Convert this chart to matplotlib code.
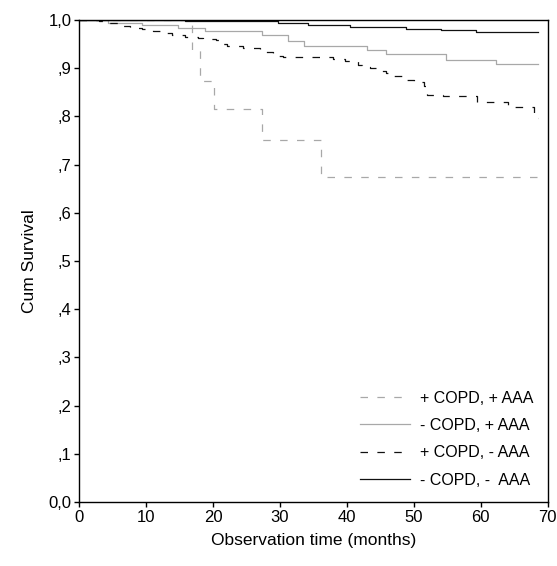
import matplotlib
matplotlib.use("Agg")
import matplotlib.pyplot as plt

plt.rcParams['font.family'] = ['Liberation Sans', 'DejaVu Sans']

# + COPD, + AAA
t_pp = [0, 16.8, 18.1, 20.1, 27.3, 36.1, 68.6]
s_pp = [1.0, 0.938, 0.874, 0.815, 0.752, 0.674, 0.674]

# - COPD, + AAA
t_mp = [0, 4.3, 9.3, 14.8, 18.8, 27.3, 31.2, 33.6, 43.0, 45.9, 54.8, 62.2, 68.6]
s_mp = [1.0, 0.994, 0.990, 0.983, 0.977, 0.969, 0.956, 0.945, 0.938, 0.929, 0.918, 0.908, 0.908]

# + COPD, - AAA
t_pm = [0, 3.0, 4.3, 5.8, 7.6, 9.3, 11.0, 12.5, 13.8, 15.8, 17.7, 18.5, 20.5, 20.9,
        21.3, 22.0, 24.5, 27.0, 28.9, 30.4, 37.9, 39.7, 41.6, 42.2, 43.5, 44.6,
        45.9, 46.7, 48.2, 50.0, 51.5, 51.9, 54.4, 59.4, 64.1, 67.9, 68.6]
s_pm = [1.0, 0.998, 0.993, 0.988, 0.984, 0.981, 0.977, 0.972, 0.969, 0.965, 0.963, 0.960,
        0.958, 0.954, 0.950, 0.947, 0.941, 0.934, 0.926, 0.924, 0.919, 0.915, 0.907,
        0.903, 0.900, 0.894, 0.889, 0.884, 0.876, 0.871, 0.862, 0.844, 0.842, 0.829,
        0.820, 0.796, 0.796]

# - COPD, - AAA
t_mm = [0, 15.8, 29.7, 34.2, 40.5, 48.8, 54.0, 59.3, 68.6]
s_mm = [1.0, 0.997, 0.993, 0.990, 0.985, 0.981, 0.979, 0.976, 0.976]

x_ticks = [0, 10, 20, 30, 40, 50, 60, 70]
y_ticks = [0.0, 0.1, 0.2, 0.3, 0.4, 0.5, 0.6, 0.7, 0.8, 0.9, 1.0]
y_labels = ['0,0', ',1', ',2', ',3', ',4', ',5', ',6', ',7', ',8', ',9', '1,0']

grey = '#a8a8a8'
dash = (6, 7.5)

fig = plt.figure(figsize=(5.57, 5.66), dpi=100)
ax = fig.add_axes([0.1424, 0.1131, 0.8409, 0.8516])

ax.step(t_pp, s_pp, where='post', color=grey, lw=0.9, dashes=dash, label='+ COPD, + AAA')
ax.step(t_mp, s_mp, where='post', color=grey, lw=0.9, label='- COPD, + AAA')
ax.step(t_pm, s_pm, where='post', color='#111111', lw=0.9, dashes=dash, label='+ COPD, - AAA')
ax.step(t_mm, s_mm, where='post', color='#111111', lw=0.9, label='- COPD, -  AAA')

ax.set_xlim(0, 70)
ax.set_ylim(0, 1.0)
ax.set_xticks(x_ticks)
ax.set_yticks(y_ticks)
ax.set_yticklabels(y_labels)
ax.tick_params(direction='out', length=3.6, width=1, labelsize=12, pad=2)
for sp in ax.spines.values():
    sp.set_linewidth(1)

ax.set_xlabel('Observation time (months)', fontsize=12.5, labelpad=6)
ax.set_ylabel('Cum Survival', fontsize=12.5, labelpad=8)

ax.legend(loc='lower right', frameon=False, fontsize=11.5, handlelength=3.1,
          handletextpad=0.65, labelspacing=0.77, borderaxespad=0.5)

fig.savefig('out.png', dpi=100)
